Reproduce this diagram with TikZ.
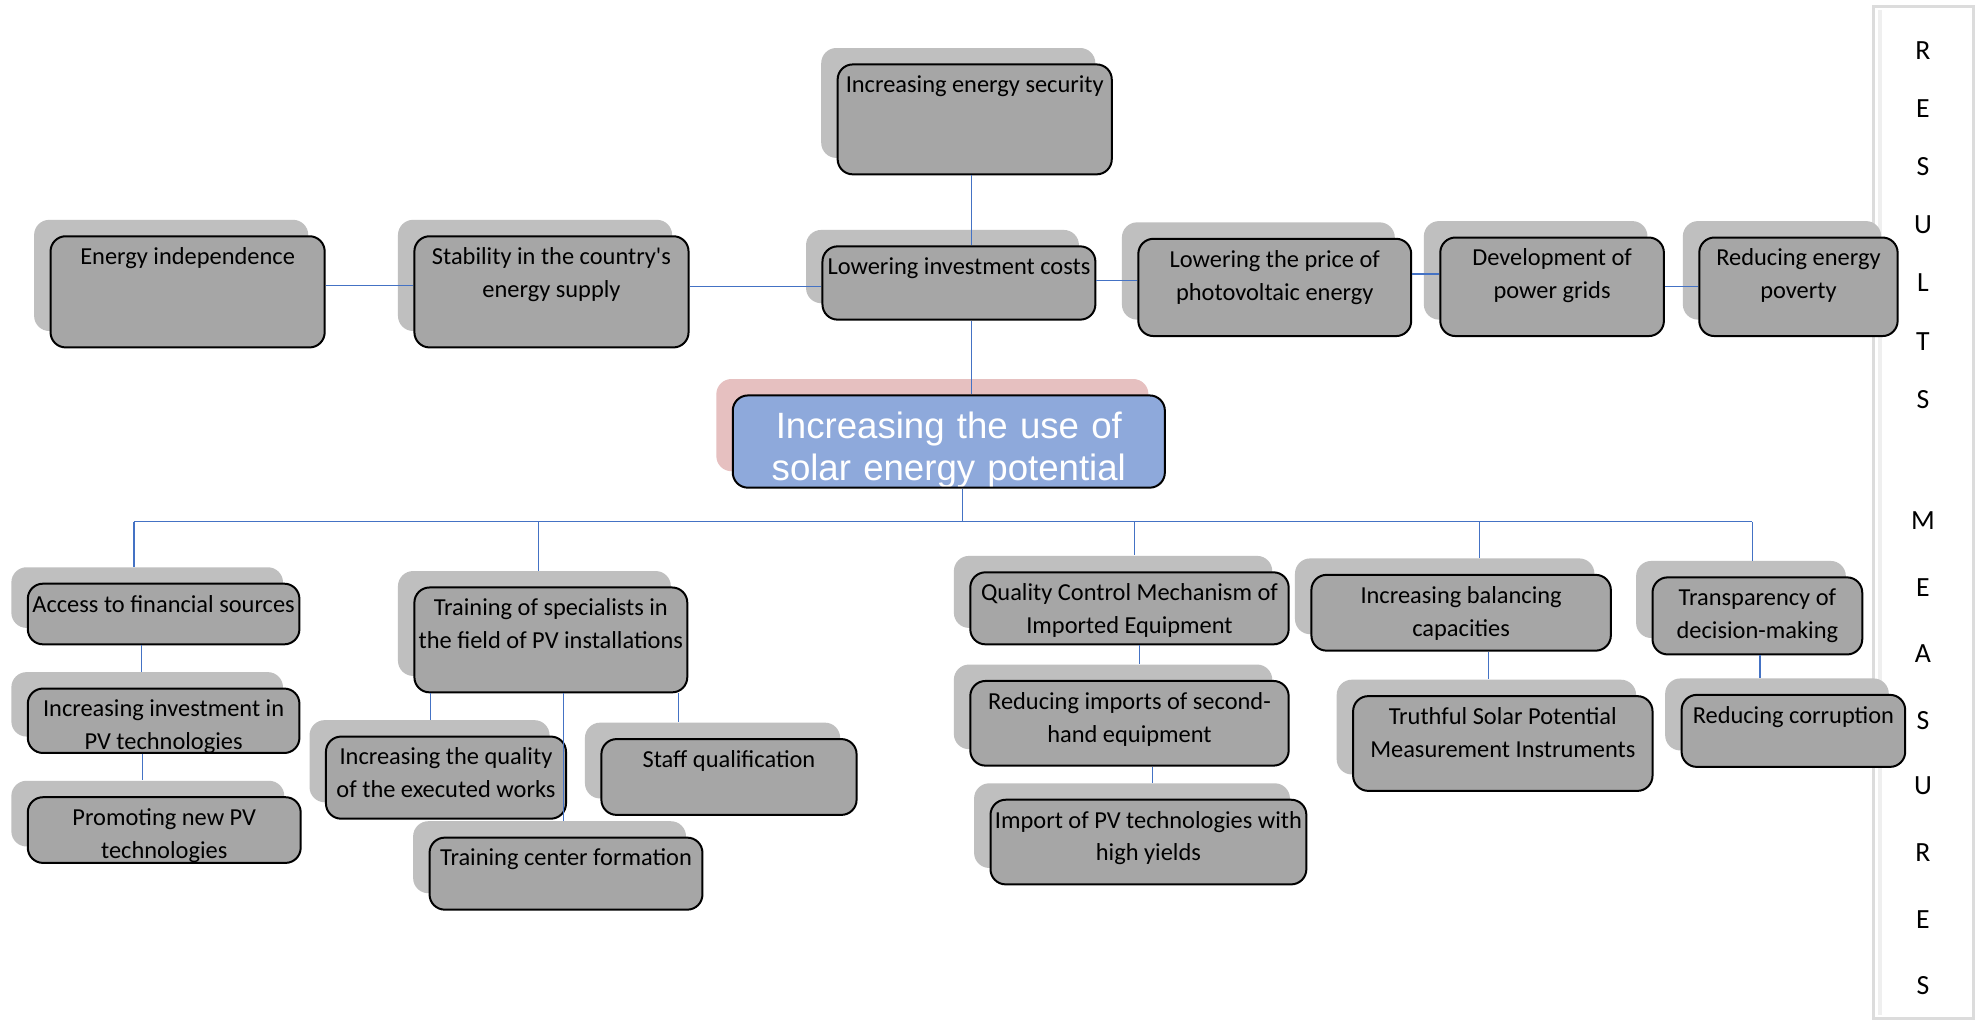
\documentclass[tikz,border=0pt]{standalone}
\usepackage{fontspec}
\setmainfont{Carlito}
\newfontfamily\arialf{Liberation Sans}
\usetikzlibrary{fit,calc}
\definecolor{linkblue}{HTML}{4472C4}
\definecolor{boxgray}{HTML}{A6A6A6}
\definecolor{shadegray}{HTML}{BFBFBF}
\definecolor{centerblue}{HTML}{8EA9DB}
\definecolor{pinkshade}{HTML}{E6C0C0}
\definecolor{panelline}{HTML}{DCDCDC}
\tikzset{
  frontbox/.style={draw=black, line width=0.9pt, fill=boxgray, rounded corners=0.24cm, inner sep=0pt},
  backbox/.style={draw=none, fill=shadegray, rounded corners=0.24cm, inner sep=0pt},
  lbl/.style={font=\fontsize{11}{14.8}\selectfont, align=center, inner sep=0pt, anchor=north, text=black},
  link/.style={draw=linkblue, line width=0.6pt},
  letter/.style={font=\fontsize{12.5}{14}\selectfont, inner sep=0pt, text=black},
}
\newcommand{\mkbox}[6]{%
  \node[backbox, fit={(#2-13,#3-13) (#4-13,#5-13)}] (s#1) {};
  \node[frontbox, fit={(#2,#3) (#4,#5)}] (#1) {};
  \node[lbl] (#1-t) at ([yshift=-0.19cm]#1.north) {#6};
}
\begin{document}
\begin{tikzpicture}[x=0.02cm, y=-0.02cm]
\useasboundingbox (0,0) rectangle (1568,811);
\fill[white] (0,0) rectangle (1568,811);

% side panel
\node[draw=panelline, line width=1.2pt, fill=white, fit={(1483,5) (1562,806)}, inner sep=0pt] (panel) {};
\draw[panelline!45, line width=2pt] (1488,8) -- (1488,803);
\foreach \ch/\yy [count=\i] in {R/40, E/86, S/132, U/178, L/224, T/270, S/316, M/412, E/465, A/517, S/570, U/622, R/675, E/728, S/780} {
  \node[letter] (let\i) at (1522,\yy) {\ch};
}

% top row
\mkbox{sec}{663}{51}{880}{138}{Increasing energy security}
\mkbox{lic}{651}{195}{867}{253}{Lowering investment costs}
\mkbox{ei}{40}{187}{257}{275}{Energy independence}
\mkbox{st}{328}{187}{545}{275}{Stability in the country\textquotesingle s\\energy supply}
\mkbox{lpe}{901}{189}{1117}{266}{Lowering the price of\\photovoltaic energy}
\mkbox{dpg}{1140}{188}{1317}{266}{Development of\\power grids}
\mkbox{rep}{1345}{188}{1502}{266}{Reducing energy\\poverty}

% center
\node[backbox, fill=pinkshade, fit={(567,300) (909,373)}] (scenter) {};
\node[frontbox, fill=centerblue, fit={(580,313) (922,386)},
  path picture={\node[font=\arialf\fontsize{16.5}{19.2}\selectfont, text=white, align=center, anchor=north, inner sep=0pt] (center-t) at ([yshift=-0.33cm]path picture bounding box.north) {Increasing the use of\\solar energy potential};}] (center) {};

% bottom groups
\mkbox{acc}{22}{462}{237}{510}{Access to financial sources}
\mkbox{inv}{22}{545}{237}{596}{Increasing investment in\\PV technologies}
\mkbox{pro}{22}{631}{238}{683}{Promoting new PV\\technologies}
\mkbox{tra}{328}{465}{544}{548}{Training of specialists in\\the field of PV installations}
\mkbox{qua}{258}{583}{448}{648}{Increasing the quality\\of the executed works}
\mkbox{sta}{476}{585}{678}{645}{Staff qualification}
\mkbox{tcf}{340}{663}{556}{720}{Training center formation}
\mkbox{qcm}{768}{453}{1020}{510}{Quality Control Mechanism of\\Imported Equipment}
\mkbox{rim}{768}{539}{1020}{606}{Reducing imports of second-\\hand equipment}
\mkbox{ipv}{784}{633}{1034}{700}{Import of PV technologies with\\high yields}
\mkbox{ibc}{1038}{455}{1275}{515}{Increasing balancing\\capacities}
\mkbox{tsp}{1071}{551}{1308}{626}{Truthful Solar Potential\\Measurement Instruments}
\mkbox{tdm}{1308}{457}{1474}{518}{Transparency of\\decision-making}
\mkbox{rco}{1331}{550}{1508}{607}{Reducing corruption}

% connectors top
\coordinate (vt) at (769,0);
\draw[link] (vt |- sec.south) -- (vt |- lic.north);
\draw[link] (vt |- lic.south) -- (vt |- center.north);
\coordinate (h1) at (0,226);
\coordinate (h2) at (0,227);
\coordinate (h3) at (0,222);
\coordinate (h4) at (0,217);
\coordinate (h5) at (0,227);
\draw[link] (ei.east |- h1) -- (st.west |- h1);
\draw[link] (st.east |- h2) -- (lic.west |- h2);
\draw[link] (lic.east |- h3) -- (lpe.west |- h3);
\draw[link] (lpe.east |- h4) -- (dpg.west |- h4);
\draw[link] (dpg.east |- h5) -- (rep.west |- h5);

% bus
\coordinate (bc) at (762,413);
\coordinate (b1) at (106,413);
\coordinate (b2) at (426,413);
\coordinate (b3) at (898,413);
\coordinate (b4) at (1171,413);
\coordinate (b5) at (1387,413);
\draw[link] (bc |- center.south) -- (bc);
\draw[link] (b1) -- (b5);
\draw[link] (b1) -- (b1 |- sacc.north);
\draw[link] (b2) -- (b2 |- stra.north);
\draw[link] (b3) -- (b3 |- sqcm.north);
\draw[link] (b4) -- (b4 |- sibc.north);
\draw[link] (b5) -- (b5 |- stdm.north);

% lower connectors
\coordinate (v1) at (112,0);
\coordinate (v2) at (113,0);
\coordinate (v3) at (341,0);
\coordinate (v4) at (446,0);
\coordinate (v5) at (537,0);
\coordinate (v6) at (902,0);
\coordinate (v7) at (912,0);
\coordinate (v8) at (1178,0);
\coordinate (v9) at (1393,0);
\draw[link] (v1 |- acc.south) -- (v1 |- sinv.north);
\draw[link] (v2 |- inv.south) -- (v2 |- spro.north);
\draw[link] (v3 |- tra.south) -- (v3 |- squa.north);
\draw[link] (v4 |- tra.south) -- (v4 |- stcf.north);
\draw[link] (v5 |- tra.south) -- (v5 |- ssta.north);
\draw[link] (v6 |- qcm.south) -- (v6 |- srim.north);
\draw[link] (v7 |- rim.south) -- (v7 |- sipv.north);
\draw[link] (v8 |- ibc.south) -- (v8 |- stsp.north);
\draw[link] (v9 |- tdm.south) -- (v9 |- srco.north);
\end{tikzpicture}
\end{document}
